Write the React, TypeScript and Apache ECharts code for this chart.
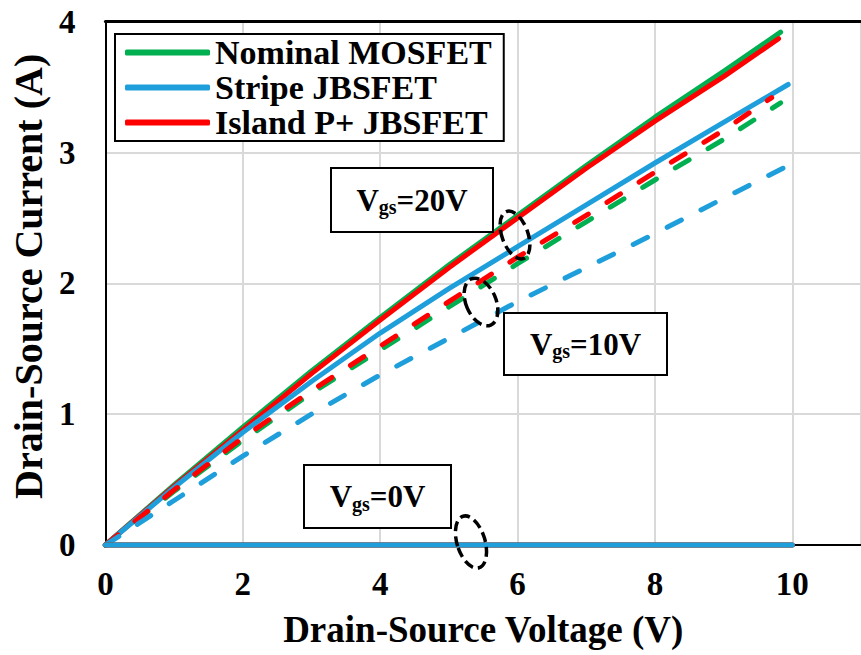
import React, { useEffect, useRef } from "react";
import * as echarts from "echarts";

// ---------- data ----------
const seriesNames = ["Nominal MOSFET", "Stripe JBSFET", "Island P+ JBSFET"];
const seriesColors = ["#00B050", "#1E9FDB", "#FF0000"];

// Vgs = 20 V (solid)
const vNominal20 = [0, 1, 2, 3, 4, 5, 6, 7, 8, 9, 9.83];
const iNominal20 = [0, 0.46, 0.9, 1.33, 1.74, 2.14, 2.52, 2.9, 3.27, 3.62, 3.92];
const vIsland20 = [0, 1, 2, 3, 4, 5, 6, 7, 8, 9, 9.8];
const iIsland20 = [0, 0.45, 0.88, 1.31, 1.72, 2.12, 2.5, 2.88, 3.24, 3.58, 3.87];
const vStripe20 = [0, 1, 2, 3, 4, 5, 6, 7, 8, 9, 9.94];
const iStripe20 = [0, 0.44, 0.86, 1.25, 1.62, 1.96, 2.28, 2.6, 2.92, 3.23, 3.52];

// Vgs = 10 V (dashed)
const vNominal10 = [0, 1, 2, 3, 4, 5, 6, 7, 8, 9, 9.83];
const iNominal10 = [0, 0.41, 0.8, 1.16, 1.49, 1.82, 2.15, 2.47, 2.79, 3.1, 3.38];
const vIsland10 = [0, 1, 2, 3, 4, 5, 6, 7, 8, 9, 9.7];
const iIsland10 = [0, 0.42, 0.82, 1.18, 1.52, 1.86, 2.2, 2.52, 2.85, 3.17, 3.42];
const vStripe10 = [0, 1, 2, 3, 4, 5, 6, 7, 8, 9, 9.94];
const iStripe10 = [0, 0.34, 0.68, 1.0, 1.3, 1.58, 1.86, 2.12, 2.38, 2.65, 2.9];

// Vgs = 0 V
const v0 = [0, 2, 4, 6, 8, 10];
const i0 = [0, 0, 0, 0, 0, 0];

const xAxisMin = 0;
const xAxisMax = 11;
const xAxisStep = 2;
const yAxisMin = 0;
const yAxisMax = 4;
const yAxisStep = 1;

const xTitle = "Drain-Source Voltage (V)";
const yTitle = "Drain-Source Current (A)";
const vgsLabels = ["=20V", "=10V", "=0V"];

const FONT = "'Liberation Serif', 'Times New Roman', serif";

const pairs = (v: number[], i: number[]) => v.map((x, k) => [x, i[k]]);

export default function App() {
  const ref = useRef<HTMLDivElement>(null);

  useEffect(() => {
    document.body.style.margin = "0";
    if (!ref.current) return;
    const chart = echarts.init(ref.current, null, { renderer: "svg" });

    const solid = (name: string, color: string, data: number[][]) => ({
      name,
      type: "line",
      data,
      showSymbol: false,
      symbol: "none",
      smooth: false,
      clip: false,
      lineStyle: { color, width: 5, cap: "round", join: "round" },
      itemStyle: { color },
    });
    const dashed = (name: string, color: string, data: number[][]) => ({
      name,
      type: "line",
      data,
      showSymbol: false,
      symbol: "none",
      smooth: false,
      clip: false,
      lineStyle: { color, width: 5, type: [16, 22], cap: "round", join: "round" },
      itemStyle: { color },
    });

    const richStyle = {
      v: { fontSize: 31, fontWeight: "bold", fontFamily: FONT, fill: "#000", lineHeight: 34 },
      s: { fontSize: 20, fontWeight: "bold", fontFamily: FONT, fill: "#000", lineHeight: 12, verticalAlign: "bottom" },
    };

    const box = (x: number, y: number, w: number, h: number, label: string) => ({
      type: "group",
      z: 100,
      children: [
        {
          type: "rect",
          shape: { x, y, width: w, height: h },
          style: { fill: "#fff", stroke: "#000", lineWidth: 2 },
          z: 100,
        },
        {
          type: "text",
          x: x + w / 2,
          y: y + h / 2,
          z: 101,
          style: {
            text: `{v|V}{s|gs}{v|${label}}`,
            rich: richStyle,
            align: "center",
            verticalAlign: "middle",
          },
        },
      ],
    });

    const ellipse = (cx: number, cy: number, rx: number, ry: number, rot: number) => ({
      type: "ellipse",
      x: cx,
      y: cy,
      rotation: rot,
      z: 100,
      shape: { cx: 0, cy: 0, rx, ry },
      style: { fill: "none", stroke: "#000", lineWidth: 3.5, lineDash: [10, 5] },
    });

    chart.setOption({
      animation: false,
      backgroundColor: "#fff",
      grid: { left: 104, top: 21.7, right: -7.5, bottom: 110, containLabel: false },
      legend: {
        show: true,
        orient: "vertical",
        left: 115,
        top: 34,
        data: seriesNames,
        icon: "roundRect",
        itemWidth: 85,
        itemHeight: 6,
        itemGap: 0,
        padding: [1, 12, 1, 10],
        borderColor: "#000",
        borderWidth: 2,
        backgroundColor: "#fff",
        selectedMode: false,
        textStyle: { fontFamily: FONT, fontWeight: "bold", fontSize: 34, color: "#000", lineHeight: 35 },
      },
      xAxis: [
        {
          type: "value",
          min: xAxisMin,
          max: xAxisMax,
          interval: xAxisStep,
          name: xTitle,
          nameLocation: "middle",
          nameGap: 66,
          nameTextStyle: { fontFamily: FONT, fontWeight: "bold", fontSize: 37, color: "#000" },
          axisLine: { show: true, onZero: false, lineStyle: { color: "#000", width: 2 } },
          axisTick: { show: false },
          axisLabel: {
            showMaxLabel: false,
            margin: 22,
            fontFamily: FONT,
            fontWeight: "bold",
            fontSize: 33,
            color: "#000",
          },
          splitLine: { show: true, lineStyle: { color: "#D9D9D9", width: 2 } },
        },
        {
          type: "value",
          position: "top",
          min: xAxisMin,
          max: xAxisMax,
          interval: xAxisStep,
          axisLine: { show: true, onZero: false, lineStyle: { color: "#000", width: 3 } },
          axisTick: { show: false },
          axisLabel: { show: false },
          splitLine: { show: false },
        },
      ],
      yAxis: {
        type: "value",
        min: yAxisMin,
        max: yAxisMax,
        interval: yAxisStep,
        name: yTitle,
        nameLocation: "middle",
        nameGap: 56,
        nameTextStyle: {
          fontFamily: FONT,
          fontWeight: "bold",
          fontSize: 40,
          color: "#000",
          padding: [0, 0, 0, 14],
        },
        axisLine: { show: true, onZero: false, lineStyle: { color: "#000", width: 2 } },
        axisTick: { show: false },
        axisLabel: { margin: 30, fontFamily: FONT, fontWeight: "bold", fontSize: 33, color: "#000" },
        splitLine: { show: true, lineStyle: { color: "#D9D9D9", width: 2 } },
      },
      series: [
        solid(seriesNames[0], seriesColors[0], pairs(vNominal20, iNominal20)),
        solid(seriesNames[2], seriesColors[2], pairs(vIsland20, iIsland20)),
        solid(seriesNames[1], seriesColors[1], pairs(vStripe20, iStripe20)),
        dashed(seriesNames[0] + " (Vgs=10V)", seriesColors[0], pairs(vNominal10, iNominal10)),
        dashed(seriesNames[2] + " (Vgs=10V)", seriesColors[2], pairs(vIsland10, iIsland10)),
        dashed(seriesNames[1] + " (Vgs=10V)", seriesColors[1], pairs(vStripe10, iStripe10)),
        solid(seriesNames[0] + " (Vgs=0V)", seriesColors[0], pairs(v0, i0)),
        solid(seriesNames[2] + " (Vgs=0V)", seriesColors[2], pairs(v0, i0)),
        solid(seriesNames[1] + " (Vgs=0V)", seriesColors[1], pairs(v0, i0)),
      ],
      graphic: [
        box(331, 168, 162, 64, vgsLabels[0]),
        box(504, 313, 163, 62, vgsLabels[1]),
        box(304, 465, 147, 63, vgsLabels[2]),
        ellipse(515, 235, 13, 25, 0.35),
        ellipse(481, 302, 15, 25, 0.4),
        ellipse(471, 542, 14, 27, 0.3),
      ],
    });

    return () => chart.dispose();
  }, []);

  return <div ref={ref} style={{ width: 861, height: 655 }} />;
}
